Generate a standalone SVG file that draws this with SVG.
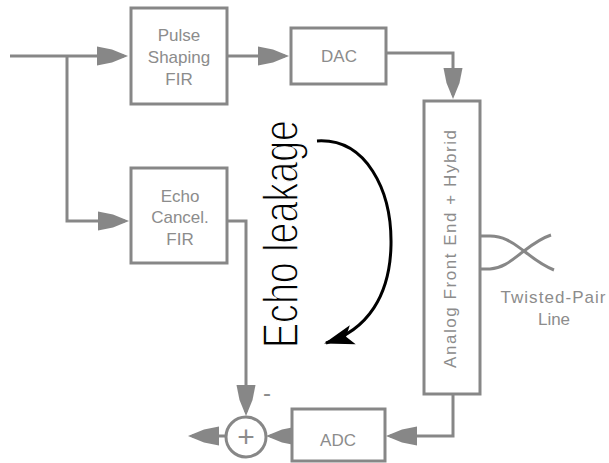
<svg xmlns="http://www.w3.org/2000/svg" width="609" height="463" viewBox="0 0 609 463">
<defs>
<style>
.box{fill:#fff;stroke:#878787;stroke-width:3}
.ln{fill:none;stroke:#878787;stroke-width:3}
.lbl{font-family:"Liberation Sans",Arial,sans-serif;font-size:17px;fill:#8c8c8c;text-anchor:middle}
</style>
<marker id="ag" markerUnits="userSpaceOnUse" markerWidth="36" markerHeight="24" viewBox="-33 -12 36 24" refX="-4" refY="0" orient="auto">
<path d="M0,0 L-16,-6.5 L-31,-9.5 L-31,9.5 L-16,6.5 Z" fill="#878787"/>
</marker>
<marker id="ab" markerUnits="userSpaceOnUse" markerWidth="36" markerHeight="26" viewBox="-33 -13 36 26" refX="-2" refY="0" orient="auto">
<path d="M0,0 L-30,-10 L-23,0 L-30,10 Z" fill="#000"/>
</marker>
</defs>
<rect width="609" height="463" fill="#fff"/>
<g id="connectors">
<path class="ln" d="M10,56 L124,56" marker-end="url(#ag)"/>
<path class="ln" d="M67,56 L67,221 L125,221" marker-end="url(#ag)"/>
<path class="ln" d="M228,56 L285,56" marker-end="url(#ag)"/>
<path class="ln" d="M386,53 L453,53 L453,95" marker-end="url(#ag)"/>
<path class="ln" d="M228,221 L246,221 L246,412" marker-end="url(#ag)"/>
<path class="ln" d="M453,394 L453,436 L390,436" marker-end="url(#ag)"/>
<path class="ln" d="M292,436 L270,436" marker-end="url(#ag)"/>
<path class="ln" d="M226,436 L192,436" marker-end="url(#ag)"/>
<path fill="none" stroke="#000" stroke-width="3" d="M317,141 C366,138 392,190 391,245 C390,295 368,330 326,343" marker-end="url(#ab)"/>
</g>
<g id="pulse">
<rect class="box" x="131" y="8" width="96" height="96"/>
<text class="lbl" x="179" y="41">Pulse</text>
<text class="lbl" x="179" y="63">Shaping</text>
<text class="lbl" x="179" y="85">FIR</text>
</g>
<g id="dac">
<rect class="box" x="291" y="28" width="95" height="56"/>
<text class="lbl" x="339" y="62">DAC</text>
</g>
<g id="echo">
<rect class="box" x="131" y="168" width="96" height="95"/>
<text class="lbl" x="180" y="202">Echo</text>
<text class="lbl" x="180" y="223">Cancel.</text>
<text class="lbl" x="180" y="245">FIR</text>
</g>
<g id="afe">
<rect class="box" x="424" y="101" width="56" height="293"/>
<text class="lbl" transform="translate(456,249) rotate(-90)" x="0" y="0" textLength="238" lengthAdjust="spacing">Analog Front End + Hybrid</text>
</g>
<g id="twisted">
<path class="ln" stroke-width="2.5" d="M480,236 L490,236 C505,236 514,244 524,251 C534,259 544,266 554,270"/>
<path class="ln" stroke-width="2.5" d="M480,269 L490,269 C505,268 514,258 524,251 C533,244 542,238 551,235"/>
<text class="lbl" x="553" y="303" textLength="105" lengthAdjust="spacing">Twisted-Pair</text>
<text class="lbl" x="554" y="325">Line</text>
</g>
<g id="adc">
<rect class="box" x="292" y="409" width="93" height="52"/>
<text class="lbl" x="338" y="446">ADC</text>
</g>
<g id="sum">
<circle class="box" cx="246" cy="437" r="20"/>
<text class="lbl" x="246" y="447" style="font-size:30px">+</text>
<text class="lbl" x="267" y="401" style="font-size:24px">-</text>
</g>
<g id="leak">
<text transform="translate(298,348) rotate(-90)" x="0" y="0" font-family="Liberation Sans, Arial, sans-serif" font-size="50" fill="#000" stroke="#fff" stroke-width="1.4" textLength="228" lengthAdjust="spacingAndGlyphs">Echo leakage</text>
</g>
</svg>
